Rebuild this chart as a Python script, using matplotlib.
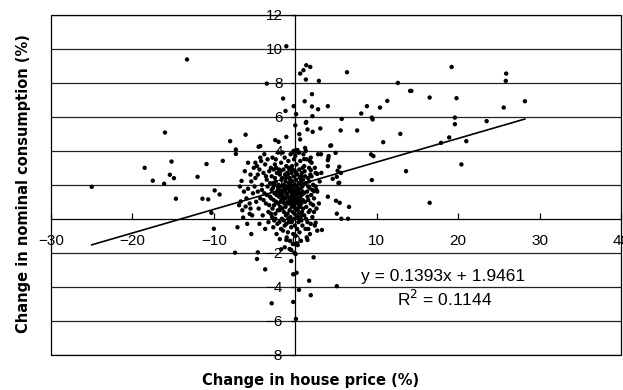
import matplotlib
matplotlib.use("Agg")
import matplotlib.pyplot as plt
from matplotlib.patches import Rectangle
import numpy as np

# ---- data ----
outer_x = [-25.0, -13.3, -16.0, -18.5, -17.5, -16.1, -15.2, -15.4, -14.9, -14.66, -12.0, -10.9, -11.4, -10.7,
           -10.3, -10.0, -9.9, -9.3, -8.9, -8.0, -7.3, -7.3, -7.4, -7.1, -6.7, -6.6, -6.1, -6.4, -6.1, -5.8,
           -5.5, -5.6, -5.4, -4.6, -4.7, -3.7, -2.9,
           -1.1, -3.5, -1.5, -1.2, -0.2, 0.1, 0.0, 1.0, 0.6, 1.35, 1.84, 1.3, 1.15, 1.35, 1.5, 0.5, 0.6,
           -4.5, -4.3, -2.46, -2.05, -1.1,
           6.35, 2.9, 12.6, 14.1, 14.25, 19.2, 16.5, 19.8, 2.05, 4.0, 2.05, 2.8, 2.1, 8.8, 8.1, 10.4, 11.3,
           9.4, 9.5, 5.7, 1.3, 2.13, 3.07, 5.57, 7.6, 10.8, 12.9, 18.9, 17.9, 4.4, 4.95, 3.16, 4.1, 4.05,
           9.3, 9.6, 13.6, 16.5, 9.4, 5.4, 5.2, 5.6, 3.2, 4.6, 5.4, 4.0, 5.0, 5.45, 6.6, 5.1, 5.65, 6.47,
           3.27, 2.5, 25.9, 25.85, 25.6, 28.2, 19.6, 19.6, 23.5, 21.0, 20.4, 4.0, 4.0, 4.3, 1.2, 1.1, 1.9,
           1.8, 2.6, 2.3, 5.3, 5.1, 2.7,
           -0.5, -0.25, 0.16, 2.25, 1.7, 0.45, 1.9, -0.25, 0.08, 0.04, -0.5, -0.7, -1.3, -1.75, 0.2, -0.3,
           0.3, 1.5, 5.1, -1.1, -0.1]
outer_y = [1.88, 9.38, 5.08, 3.0, 2.24, 2.06, 3.37, 2.59, 2.39, 1.18, 2.47, 3.22, 1.18, 1.14,
           0.35, -0.59, 1.67, 1.43, 3.41, 4.57, 4.08, 3.82, -2.0, -0.5, 1.02, 2.23, 4.95, 0.07, 0.72, 1.77,
           0.6, 0.29, -0.9, -1.98, -2.37, -2.98, -4.98,
           10.16, 7.96, 7.08, 6.35, 6.63, 6.16, 5.5, 8.75, 8.55, 9.04, 8.94, 8.2, 6.92, 5.7, 5.26, 4.98, 4.67,
           4.24, 4.28, 4.63, 4.53, 4.82,
           8.63, 8.12, 8.0, 7.53, 7.53, 8.94, 7.14, 7.1, 7.34, 6.63, 6.61, 6.45, 6.04, 6.63, 6.2, 6.55, 6.94,
           5.96, 5.85, 5.88, 5.65, 5.12, 5.32, 5.2, 5.2, 4.51, 5.0, 4.79, 4.47, 4.32, 3.88, 3.8, 3.69, 3.55,
           3.79, 3.69, 2.8, 0.94, 2.28, 3.06, 2.83, 2.7, 2.7, 2.35, 2.12, 1.3, 1.06, 0.94, 0.7, 0.3, 0.0, 0.0,
           -0.66, -0.23, 8.55, 8.12, 6.55, 6.92, 5.96, 5.57, 5.75, 4.57, 3.2, 3.1, 3.45, 4.3, 4.17, 3.52, 2.86,
           3.4, 1.7, 1.62, 2.1, 2.47, 2.64,
           -2.49, -3.27, -3.18, -2.27, -3.65, -4.19, -4.5, -4.9, -5.9, -2.08, -1.84, -1.78, -1.68, -1.8, -1.45, -1.49,
           -1.55, -1.25, -3.97, -1.25, -2.0]

core_x = [-4.9, -4.7, -4.6, -4.5, -4.4, -4.3, -4.2, -4.1, -4.0, -3.9, -3.8, -3.7, -3.6, -3.5, -3.4, -3.3, -3.2,
          -3.1, -3.0, -4.8, -4.6, -4.3, -3.9, -3.6, -3.4, -3.2, -3.1, -4.4, -3.7, -4.1, -3.5, -3.0, -4.9, -3.8, -3.3,
          -6.8, -6.5, -6.2, -6.0, -5.8, -5.6, -5.4, -5.2, -5.1, -6.9, -5.9, -5.3, -6.3, -5.5, -5.0,
          -2.95, -2.9, -2.85, -2.8, -2.75, -2.7, -2.65, -2.6, -2.55, -2.5, -2.45, -2.4, -2.35, -2.3, -2.25, -2.2,
          -2.15, -2.1, -2.05, -2.0, -1.95, -1.9, -1.85, -1.8, -1.75, -1.7, -1.65, -1.6, -1.55, -1.5, -1.45, -1.4,
          -1.35, -1.3, -1.25, -1.2, -1.15, -1.1, -1.05, -1.0,
          -2.9, -2.7, -2.6, -2.4, -2.3, -2.1, -2.0, -1.9, -1.8, -1.7, -1.6, -1.5, -1.4, -1.3, -1.2, -1.1, -1.0,
          -2.8, -2.5, -2.2, -2.0, -1.8, -1.6, -1.4, -1.2, -1.05, -2.35, -1.95, -1.55, -1.25, -2.65, -2.15, -1.75,
          -1.35, -1.15, -2.45, -1.85, -1.45, -1.1, -2.55,
          -0.98, -0.95, -0.92, -0.9, -0.88, -0.85, -0.82, -0.8, -0.78, -0.75, -0.72, -0.7, -0.68, -0.65, -0.62,
          -0.6, -0.58, -0.55, -0.52, -0.5, -0.48, -0.45, -0.42, -0.4, -0.38, -0.35, -0.32, -0.3, -0.28, -0.25,
          -0.22, -0.2, -0.18, -0.15, -0.12, -0.1, -0.08, -0.05, -0.02, 0.0,
          0.02, 0.05, 0.08, 0.1, 0.12, 0.15, 0.18, 0.2, 0.22, 0.25, 0.28, 0.3, 0.32, 0.35, 0.38, 0.4, 0.42, 0.45,
          0.48, 0.5, 0.52, 0.55, 0.58, 0.6, 0.62, 0.65, 0.68, 0.7, 0.72, 0.75, 0.78, 0.8, 0.82, 0.85, 0.88, 0.9,
          0.92, 0.95, 0.98,
          -0.9, -0.7, -0.5, -0.3, -0.1, 0.1, 0.3, 0.5, 0.7, 0.9, -0.85, -0.65, -0.45, -0.25, -0.05, 0.15, 0.35,
          0.55, 0.75, 0.95, -0.6, -0.2, 0.2, 0.6, -0.4, 0.0, 0.4, 0.8, -0.8, 0.0, 0.0, -0.3, -0.2, 0.25, 0.5,
          1.05, 1.1, 1.15, 1.2, 1.25, 1.3, 1.35, 1.4, 1.45, 1.5, 1.55, 1.6, 1.65, 1.7, 1.75, 1.8, 1.85, 1.9,
          1.95, 2.0, 2.1, 2.2, 2.3, 2.4, 2.5, 2.6, 2.7, 2.8, 2.9, 3.0,
          1.1, 1.3, 1.5, 1.7, 1.9, 2.1, 2.3, 2.5, 2.7, 1.2, 1.4, 1.6, 1.8, 2.0, 2.2, 1.0, 1.3, 2.4, 1.6, 1.9]
core_y = [2.4, 3.1, 1.6, 0.6, 2.9, 1.2, 3.4, 2.0, 0.2, 2.7, 1.5, 3.2, 0.9, 2.3, 1.9, 0.4, 2.8,
          1.3, 3.0, 1.0, 2.6, 3.6, 1.1, 2.5, 3.5, 0.8, 2.1, -0.3, -0.6, 1.7, 1.4, 0.3, 3.3, 3.8, -0.2,
          1.9, 0.5, 2.8, 1.2, 3.3, 0.9, 2.2, 1.5, 3.0, 0.8, -0.3, 0.2, 1.6, 2.6, 1.9,
          1.2, 2.5, 0.1, 3.6, 1.8, -0.5, 2.9, 0.8, 1.5, 3.2, 0.3, 2.2, 1.0, -0.9, 2.7, 1.6,
          0.5, 3.9, 2.0, 1.3, -0.2, 2.6, 0.7, 1.9, 3.3, 1.1, 0.0, 2.4, 1.6, -0.7, 2.9, 0.4,
          1.8, 3.6, 1.2, 2.2, 0.2, 1.5, -1.1, 2.7,
          1.7, 2.1, -0.1, 3.5, 1.4, 0.9, 2.9, -1.2, 1.0, 2.3, 0.6, 1.3, 2.0, -0.4, 1.7, 3.1, 0.9,
          0.6, 2.4, -0.3, 1.7, 2.8, 1.4, -0.1, 0.7, 1.9, 3.0, 0.5, 3.9, 2.6, 1.1, 1.9, -0.6,
          0.9, 2.4, 0.0, 1.5, 1.0, -0.3, 2.0,
          1.4, 0.3, 2.6, -0.8, 1.8, 3.4, 0.9, 2.1, -0.2, 1.2, 2.9, 0.5, 1.6, -1.3, 2.3,
          0.1, 3.8, 1.0, 1.9, -0.5, 2.7, 0.7, 1.5, 3.1, -0.1, 2.2, 1.1, 0.4, 1.7, -0.9,
          2.5, 0.8, 1.3, 3.5, 0.0, 2.0, 1.2, -0.4, 2.8, 0.6,
          1.6, -1.0, 2.3, 0.9, 1.4, 3.2, 0.2, 1.9, -0.6, 2.6, 1.1, 0.5, 1.7, 3.9, -0.2, 2.1, 1.0, 0.3,
          2.9, 1.5, -0.8, 2.4, 0.7, 1.3, 3.4, 0.0, 1.8, -1.3, 2.2, 0.9, 1.4, 2.7, 0.4, 1.9, -0.4, 3.0,
          1.1, 0.6, 2.0,
          1.0, 2.4, 1.3, 2.9, 0.3, 2.7, 1.2, 0.8, 2.5, 1.6, 0.0, 1.7, -0.2, 1.9, 1.0, 1.6, 0.1,
          1.1, -0.1, 2.3, 2.0, 1.5, 0.6, 2.1, 0.9, 3.7, 1.6, 0.2, 3.0, -1.5, 4.0, 3.9, 4.0, 4.05, 3.9,
          1.5, 0.2, 2.8, 1.0, -0.6, 2.1, 0.7, 3.5, 1.6, -0.2, 2.4, 1.1, 0.4, 3.0, 1.8, -0.9, 2.6, 0.9,
          1.4, 3.3, 0.1, 2.0, 1.2, -0.4, 2.7, 0.6, 1.6, 3.8, 0.9, 2.2,
          3.1, 0.0, 1.3, 2.2, -0.3, 1.7, 0.4, 1.9, -0.7, 2.5, -1.1, 1.9, 0.5, 2.5, 0.8, 3.8, 4.0, 3.0, -0.6, 3.6]

slope = 0.1393
intercept = 1.9461
r_squared = 0.1144

x_ticks = [-30, -20, -10, 0, 10, 20, 30, 40]
y_ticks = [-8, -6, -4, -2, 2, 4, 6, 8, 10, 12]

# ---- figure ----
fig = plt.figure(figsize=(6.23, 3.9), dpi=100)
ax = fig.add_axes([51/623, 35.4/390, 570/623, 339.6/390])
ax.set_xlim(-30, 40)
ax.set_ylim(-8, 12)

for yv in y_ticks:
    ax.axhline(yv, color='#222222', lw=0.9, zorder=1)

all_x = np.array(outer_x + core_x)
all_y = np.array(outer_y + core_y)
ax.scatter(all_x, all_y, s=10, color='black', edgecolors='none', zorder=3)

xl = np.array([all_x.min(), all_x.max()])
ax.plot(xl, slope * xl + intercept, color='black', lw=1.2, zorder=4)

# spines through zero
for s in ['top', 'right']:
    ax.spines[s].set_visible(False)
ax.spines['left'].set_position(('data', 0))
ax.spines['bottom'].set_position(('data', 0))
ax.spines['left'].set_linewidth(0.9)
ax.spines['bottom'].set_linewidth(0.9)
ax.add_patch(Rectangle((0, 0), 1, 1, transform=ax.transAxes, fill=False,
                       edgecolor='black', lw=0.9, clip_on=False, zorder=5))

tick_font = dict(family='Liberation Sans', size=11)
ax.set_xticks(x_ticks)
ax.set_xticklabels([f"{v:d}".replace('-', '\u2212') for v in x_ticks], **tick_font)
ax.set_yticks(y_ticks)
ax.set_yticklabels([f"{v:d}".replace('-', '\u2212') for v in y_ticks], **tick_font)
ax.tick_params(axis='x', direction='in', length=4, width=0.9, pad=11)
ax.tick_params(axis='y', direction='out', length=3, width=0.9, pad=6)

ax.text(18.2, -3.41, f"y = {slope:.4f}x + {intercept:.4f}", ha='center', va='center',
        family='Liberation Sans', size=12.5, zorder=6)
ax.text(18.4, -4.75, f"R$^2$ = {r_squared:.4f}", ha='center', va='center',
        family='Liberation Sans', size=12.5, zorder=6)

fig.text(311/623, 1 - 380/390, "Change in house price (%)", ha='center', va='center',
         family='DejaVu Sans', weight='bold', size=10.5)
fig.text(24/623, 1 - 184/390, "Change in nominal consumption (%)", ha='center', va='center',
         rotation=90, family='DejaVu Sans', weight='bold', size=10.5)

fig.savefig("out.png", dpi=100)
